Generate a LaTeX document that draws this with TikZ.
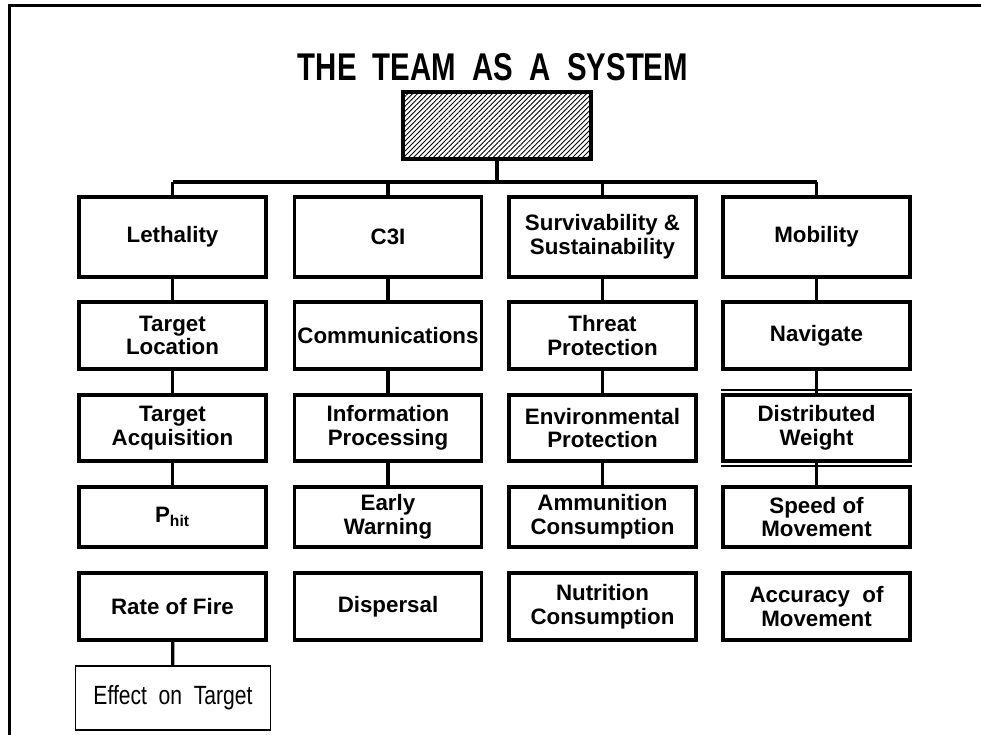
\documentclass[tikz,border=0pt]{standalone}
\usepackage{fontspec}
\setmainfont{Liberation Sans}
\usetikzlibrary{patterns.meta}
\def\colw{3.74cm}

\tikzset{
	unit/.style={draw, line width=1.9pt, minimum width=\colw, minimum height=#1, inner sep=0pt, align=center, font=\bfseries\fontsize{12.7}{13.5}\selectfont},
	unit/.default=1.34cm,
	link/.style={line width=1.9pt},
}

\begin{document}
\begin{tikzpicture}
		%%%%% START %%%%%
		\useasboundingbox (0, 0) rectangle (19.62, -14.7);
		\draw[line width=1.5pt] (19.62, -0.11) -- (0.19, -0.11) -- (0.19, -14.7);
		
		\node[anchor=base] (title) at (9.86, -1.62) {\scalebox{0.76}[1]{\bfseries\fontsize{22}{22}\selectfont THE\ \ TEAM\ \ AS\ \ A\ \ SYSTEM}};
		\node[draw, line width=1.9pt, minimum width=3.76cm, minimum height=1.34cm, pattern={Lines[angle=45, distance=2pt, line width=0.5pt]}] (team) at (9.94, -2.51) {};
		
		\coordinate (barl) at (3.45, -3.64);
		\coordinate (barr) at (16.33, -3.64);
		
		%% lethality
		\node[unit=1.6cm] (leth) at (3.45, -4.74) {Lethality};
		\node[unit] (tloc) at (3.45, -6.71) {Target\\Location};
		\node[unit=1.32cm] (tacq) at (3.45, -8.56) {Target\\Acquisition};
		\node[unit=1.2cm] (phit) at (3.45, -10.34) {P\textsubscript{hit}};
		\node[unit] (rof) at (3.45, -12.13) {Rate of Fire};
		\node[draw, line width=0.9pt, minimum width=3.9cm, minimum height=1.28cm, inner sep=0pt] (eot) at (3.46, -13.96) {\scalebox{0.8}[1]{\fontsize{15}{16}\selectfont Effect\ \ on\ \ Target}};
		
		%% c3i
		\node[unit=1.6cm] (cthree) at (7.76, -4.74) {C3I};
		\node[unit] (comm) at (7.76, -6.71) {Communications};
		\node[unit=1.32cm] (info) at (7.76, -8.56) {Information\\Processing};
		\node[unit=1.2cm] (early) at (7.76, -10.34) {Early\\Warning};
		\node[unit] (disp) at (7.76, -12.13) {Dispersal};
		
		%% survivability
		\node[unit=1.6cm] (surv) at (12.05, -4.74) {Survivability \&\\Sustainability};
		\node[unit] (threat) at (12.05, -6.71) {Threat\\Protection};
		\node[unit=1.32cm] (env) at (12.05, -8.56) {Environmental\\Protection};
		\node[unit=1.2cm] (ammo) at (12.05, -10.34) {Ammunition\\Consumption};
		\node[unit] (nutr) at (12.05, -12.13) {Nutrition\\Consumption};
		
		%% mobility
		\node[unit=1.6cm] (mob) at (16.33, -4.74) {Mobility};
		\node[unit] (nav) at (16.33, -6.71) {Navigate};
		\node[unit=1.32cm] (dist) at (16.33, -8.56) {Distributed\\Weight};
		\node[unit=1.2cm] (speed) at (16.33, -10.34) {Speed of\\Movement};
		\node[unit] (acc) at (16.33, -12.13) {Accuracy\ \ of\\Movement};
		\draw[line width=0.8pt] ([yshift=2pt]dist.north west) -- ([yshift=2pt]dist.north east);
		\draw[line width=0.8pt] ([yshift=-2pt]dist.south west) -- ([yshift=-2pt]dist.south east);
		
		%% tree
		\draw[link] (team.south) -- (team.south |- barl);
		\draw[link] (barl) -- (barr);
		\draw[link] (barl) -- (leth.north);
		\draw[link] (cthree.north |- barl) -- (cthree.north);
		\draw[link] (surv.north |- barl) -- (surv.north);
		\draw[link] (barr) -- (mob.north);
		
		\draw[link] (leth) -- (tloc) -- (tacq) -- (phit);
		\draw[link] (rof) -- (eot);
		\draw[link] (cthree) -- (comm) -- (info) -- (early);
		\draw[link] (surv) -- (threat) -- (env) -- (ammo);
		\draw[link] (mob) -- (nav) -- (dist) -- (speed);
		%%%%% END %%%%%
	\end{tikzpicture}
\end{document}
